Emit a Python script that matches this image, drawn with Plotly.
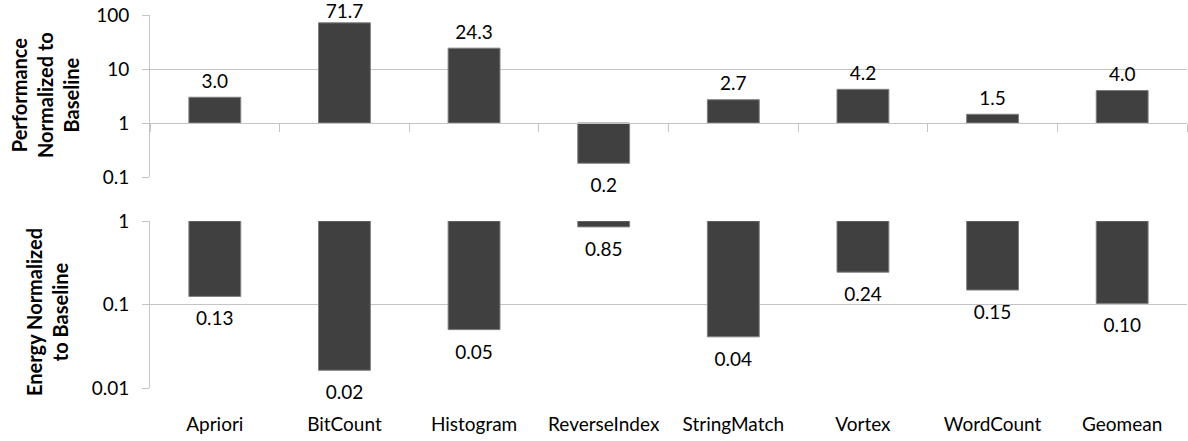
import plotly.graph_objects as go

categories = ["Apriori", "BitCount", "Histogram", "ReverseIndex", "StringMatch", "Vortex", "WordCount", "Geomean"]
performance = [3.0, 71.7, 24.3, 0.18, 2.7, 4.2, 1.45, 4.0]
performance_labels = ["3.0", "71.7", "24.3", "0.2", "2.7", "4.2", "1.5", "4.0"]
energy = [0.125, 0.0163, 0.050, 0.85, 0.041, 0.244, 0.149, 0.103]
energy_labels = ["0.13", "0.02", "0.05", "0.85", "0.04", "0.24", "0.15", "0.10"]

FONT = "Lato"
BAR = "#404040"
GRID = "#c4c4c4"
xs = list(range(len(categories)))
bounds = [i + 0.5 for i in range(-1, len(categories))]


def label_offset(v):
    # spacing of the value label from the bar end (labels near the top edge hug the bar)
    if v >= 50:
        return 0
    return 6 if v >= 1 else 22


fig = go.Figure()
fig.add_trace(go.Bar(x=xs, y=[v - 1 for v in performance], base=1, width=0.4,
                     marker=dict(color=BAR, line=dict(color="#7f7f7f", width=1)),
                     xaxis="x", yaxis="y", showlegend=False, hoverinfo="skip"))
fig.add_trace(go.Scatter(x=xs, y=performance, text=performance_labels, mode="markers+text",
                         marker=dict(size=[label_offset(v) for v in performance], opacity=0),
                         textposition=["top center" if v >= 1 else "bottom center" for v in performance],
                         textfont=dict(family=FONT, size=19, color="#000"),
                         xaxis="x", yaxis="y", showlegend=False, cliponaxis=False, hoverinfo="skip"))
fig.add_trace(go.Bar(x=xs, y=[v - 1 for v in energy], base=1, width=0.4,
                     marker=dict(color=BAR, line=dict(color="#7f7f7f", width=1)),
                     xaxis="x2", yaxis="y2", showlegend=False, hoverinfo="skip"))
fig.add_trace(go.Scatter(x=xs, y=energy, text=energy_labels, mode="markers+text",
                         marker=dict(size=22, opacity=0),
                         textposition="bottom center",
                         textfont=dict(family=FONT, size=19, color="#000"),
                         xaxis="x2", yaxis="y2", showlegend=False, cliponaxis=False, hoverinfo="skip"))

xr = [-0.5, len(categories) - 0.5]
tickfont = dict(family=FONT, size=19, color="#000")
W, H, L, R, T, B = 1188, 441, 150, 1, 15, 53
pw, ph = W - L - R, H - T - B


def px_x(x):
    return (x - L) / pw


def px_y(y):
    return (H - B - y) / ph


title_font = dict(family=FONT, size=20, color="#000", weight="bold")
fig.update_layout(
    width=W, height=H,
    margin=dict(l=L, r=R, t=T, b=B),
    paper_bgcolor="white", plot_bgcolor="white",
    xaxis=dict(domain=[0, 1], range=xr, anchor="free", position=px_y(123), side="bottom",
               tickvals=bounds, ticks="outside", ticklen=8, tickcolor=GRID, showticklabels=False,
               showline=True, linecolor=GRID, showgrid=False, zeroline=False),
    yaxis=dict(domain=[px_y(177), 1], anchor="x", type="log", range=[-1, 2],
               tickvals=[0.1, 1, 10, 100], ticktext=["0.1", "1", "10", "100"],
               ticks="outside", ticklen=7, tickcolor=GRID, showline=True, linecolor=GRID,
               showgrid=True, gridcolor=GRID, tickfont=tickfont, zeroline=False,
               ticklabelstandoff=9),
    xaxis2=dict(domain=[0, 1], range=xr, anchor="y2", side="bottom",
                tickvals=xs, ticktext=categories, ticks="", showline=False, showgrid=False,
                zeroline=False, tickfont=tickfont, ticklabelstandoff=23),
    xaxis3=dict(domain=[0, 1], range=xr, overlaying="x2", anchor="y2", side="top",
                tickvals=bounds, ticks="outside", ticklen=7, tickcolor=GRID, showticklabels=False,
                showline=True, linecolor=GRID, showgrid=False, zeroline=False),
    yaxis2=dict(domain=[0, px_y(221)], anchor="x2", type="log", range=[-2, 0],
                tickvals=[0.01, 0.1, 1], ticktext=["0.01", "0.1", "1"],
                ticks="outside", ticklen=7, tickcolor=GRID, showline=True, linecolor=GRID,
                showgrid=True, gridcolor=GRID, tickfont=tickfont, zeroline=False,
                ticklabelstandoff=9),
    annotations=[
        dict(text="<b>Performance<br>Normalized to<br>Baseline</b>", x=px_x(45), y=px_y(95),
             xref="paper", yref="paper", xanchor="center", yanchor="middle",
             showarrow=False, textangle=-90, font=title_font),
        dict(text="<b>Energy Normalized<br>to Baseline</b>", x=px_x(47), y=px_y(312),
             xref="paper", yref="paper", xanchor="center", yanchor="middle",
             showarrow=False, textangle=-90, font=title_font),
    ],
)
fig.write_html("out.html", config={"displayModeBar": False},
               post_script="document.body.style.margin='0';")
